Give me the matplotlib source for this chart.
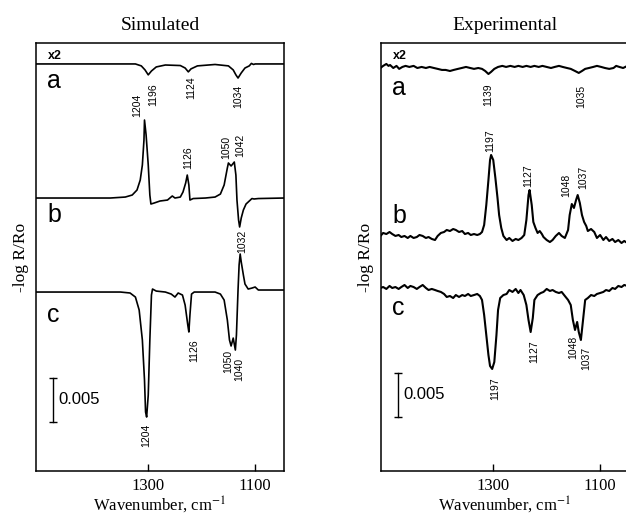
import matplotlib
matplotlib.use("Agg")
import matplotlib.pyplot as plt

plt.rcParams["mathtext.fontset"] = "stix"

# ---- data: wavenumber (cm-1) and change in -log R/Ro (units of 1e-3) ----
# simulated spectra
sim_a_wn = [1509, 1324, 1313, 1306, 1300, 1294, 1285, 1268, 1240, 1231, 1225, 1220,
            1208, 1175, 1150, 1141, 1136, 1132, 1126, 1119, 1111, 1107, 1103, 1100, 1046]
sim_a = [0, 0, -0.11, -0.34, -0.62, -0.40, -0.17, -0.06, -0.09, -0.23, -0.45, -0.28,
         -0.11, -0.03, -0.11, -0.34, -0.62, -0.80, -0.51, -0.23, -0.11, 0.03, -0.03, 0, 0]

sim_b_wn = [1509, 1371, 1343, 1330, 1321, 1315, 1311, 1308, 1307, 1304, 1300, 1297, 1295,
            1289, 1278, 1264, 1255, 1250, 1240, 1235, 1230, 1227, 1224, 1222, 1216, 1193,
            1175, 1165, 1158, 1152, 1150, 1145, 1142, 1139, 1136, 1134, 1131, 1129, 1126,
            1122, 1117, 1109, 1106, 1102, 1094, 1046]
sim_b = [0, 0, 0.11, 0.34, 0.91, 2.04, 3.75, 6.59, 8.86, 7.16, 3.75, 0.34, -0.68,
         -0.57, -0.34, -0.23, 0.23, 0, 0.11, 0.68, 1.70, 2.61, 1.48, -0.23, -0.06, 0,
         0.11, 0.45, 1.48, 3.41, 3.98, 3.64, 3.86, 4.09, 2.61, -0.23, -2.50, -3.29, -2.27,
         -1.36, -0.68, -0.23, -0.06, -0.11, -0.06, 0]

sim_c_wn = [1509, 1352, 1334, 1324, 1317, 1311, 1307, 1305, 1303, 1300, 1297, 1294, 1292,
            1285, 1268, 1257, 1250, 1244, 1236, 1231, 1226, 1224, 1222, 1219, 1214, 1175,
            1165, 1158, 1152, 1148, 1145, 1141, 1137, 1135, 1132, 1130, 1128, 1126, 1122,
            1119, 1113, 1106, 1100, 1094, 1046]
sim_c = [0, 0, -0.11, -0.57, -2.04, -5.45, -10.0, -13.63, -14.2, -11.7, -5.45, -0.34, 0.34,
         0.11, 0, -0.23, -0.57, -0.11, -0.34, -1.48, -3.75, -4.54, -2.61, -0.23, 0, 0,
         -0.23, -0.91, -3.18, -5.45, -6.13, -5.23, -6.59, -4.88, 0.23, 3.07, 4.32, 3.41, 1.93,
         0.91, 0.34, 0.45, 0.57, 0.23, 0.23]

# experimental spectra
exp_a_wn = [1511, 1506, 1500, 1496, 1493, 1487, 1481, 1476, 1470, 1464, 1457, 1449, 1442,
            1434, 1426, 1419, 1411, 1404, 1396, 1389, 1381, 1374, 1366, 1359, 1351, 1343,
            1336, 1328, 1321, 1315, 1309, 1304, 1298, 1291, 1283, 1276, 1268, 1260, 1253,
            1245, 1238, 1230, 1223, 1215, 1208, 1200, 1192, 1185, 1177, 1170, 1162, 1155,
            1147, 1140, 1134, 1128, 1121, 1113, 1106, 1098, 1091, 1083, 1075, 1070, 1064,
            1057, 1049]
exp_a = [-0.06, 0.06, 0.17, 0.06, 0.11, -0.06, 0.06, -0.11, 0, 0.06, 0, 0.06, -0.06,
         0, -0.06, 0, -0.06, -0.11, -0.17, -0.17, -0.23, -0.17, -0.11, -0.06, 0, -0.06,
         -0.11, -0.06, -0.11, -0.23, -0.40, -0.28, -0.11, 0, 0.06, 0, 0.06, 0, 0.06,
         0, 0.06, 0, 0.06, 0, 0.06, 0, -0.06, 0, 0.06, 0, -0.06, -0.11,
         -0.23, -0.34, -0.23, -0.11, -0.06, 0, 0.06, 0, -0.06, -0.11, -0.06, 0.06, 0,
         -0.06, 0.06]

exp_b_wn = [1511, 1506, 1500, 1494, 1489, 1483, 1477, 1472, 1466, 1460, 1455, 1449, 1443,
            1438, 1432, 1426, 1421, 1415, 1409, 1404, 1398, 1392, 1387, 1381, 1375, 1370,
            1364, 1358, 1353, 1347, 1342, 1336, 1330, 1325, 1321, 1317, 1313, 1309, 1306,
            1304, 1300, 1296, 1292, 1289, 1285, 1281, 1275, 1270, 1264, 1258, 1253, 1247,
            1242, 1238, 1234, 1232, 1228, 1225, 1221, 1217, 1213, 1209, 1206, 1200, 1194,
            1189, 1183, 1177, 1172, 1166, 1160, 1157, 1153, 1149, 1145, 1142, 1138, 1134,
            1130, 1126, 1123, 1117, 1111, 1106, 1100, 1094, 1089, 1083, 1077, 1072, 1066,
            1060, 1055, 1049]
exp_b = [-0.11, 0.23, 0.11, 0.34, 0.11, -0.11, 0, -0.23, -0.11, -0.34, -0.11, -0.34, -0.23,
         0, -0.11, -0.34, -0.23, -0.45, -0.57, -0.11, 0.23, 0.34, 0.57, 0.45, 0.68, 0.57,
         0.34, 0.45, 0.11, 0.23, 0, 0.11, 0, 0.11, 0.34, 1.14, 3.41, 6.25, 8.52,
         9.09, 8.52, 6.48, 4.20, 2.27, 0.80, -0.11, -0.57, -0.34, -0.68, -0.45, -0.57, -0.34,
         0, 1.70, 4.54, 5.11, 3.41, 1.48, 0.80, 0.23, 0.45, 0.11, -0.23, -0.57, -0.80,
         -0.57, -0.11, 0.23, -0.11, -0.34, 0.57, 2.27, 3.52, 3.07, 3.98, 4.54, 3.64, 2.27,
         1.48, 1.02, 0.45, 0.68, 0.34, -0.34, 0, -0.57, -0.23, -0.68, -0.45, -0.80, -0.57,
         -0.91, -0.68, -0.91]

exp_c_wn = [1511, 1506, 1500, 1494, 1489, 1483, 1477, 1472, 1466, 1460, 1455, 1449, 1443,
            1438, 1432, 1426, 1421, 1415, 1409, 1404, 1398, 1392, 1387, 1381, 1375, 1370,
            1364, 1358, 1353, 1347, 1342, 1336, 1330, 1325, 1321, 1317, 1313, 1309, 1306,
            1302, 1298, 1294, 1291, 1287, 1281, 1275, 1270, 1264, 1258, 1253, 1249, 1243,
            1238, 1234, 1230, 1226, 1223, 1217, 1211, 1206, 1200, 1194, 1189, 1183, 1177,
            1172, 1166, 1160, 1155, 1151, 1147, 1143, 1140, 1136, 1132, 1128, 1123, 1117,
            1111, 1106, 1100, 1094, 1089, 1083, 1077, 1072, 1066, 1060, 1055, 1049]
exp_c = [0, 0.11, -0.11, 0.23, 0, 0.11, -0.11, 0.11, 0.34, 0, 0.23, 0.11, -0.11,
         0.11, 0.34, 0, -0.23, -0.11, -0.23, -0.34, -0.45, -0.68, -1.02, -0.91, -1.14, -0.80,
         -1.02, -0.80, -0.91, -0.68, -0.91, -0.80, -0.68, -0.91, -1.36, -3.07, -5.34, -7.61, -8.86,
         -9.20, -8.41, -5.34, -2.50, -1.14, -0.80, -0.68, -0.23, -0.45, -0.11, -0.57, -0.23, -0.80,
         -1.93, -3.64, -5.00, -3.41, -1.36, -0.80, -0.57, -0.45, -0.11, -0.34, -0.23, -0.45, -0.57,
         -0.45, -0.91, -1.36, -1.93, -3.64, -4.77, -3.86, -5.00, -5.91, -3.64, -1.36, -1.14, -0.80,
         -0.91, -0.68, -0.57, -0.45, -0.23, -0.34, 0, -0.11, 0.23, 0.11, 0.34, 0.23]

x2_factor = 2  # trace a is shown multiplied by 2

# ---- layout ----
offsets = {"sim": (46.24, 31.01, 20.33), "exp": (45.9, 26.81, 20.79)}
xlim = (1510, 1046)
ylim = (0, 48.62)

sim_labels = [("1196", 1290, 42.8), ("1124", 1220, 43.5), ("1034", 1132, 42.6),
              ("1204", 1321, 41.5), ("1126", 1226, 35.6), ("1050", 1154, 36.7),
              ("1042", 1128, 37.0), ("1032", 1124, 26.1), ("1126", 1214, 13.7),
              ("1050", 1150, 12.4), ("1040", 1130, 11.5), ("1204", 1304, 4.1)]
exp_labels = [("1139", 1309, 42.7), ("1035", 1136, 42.6), ("1197", 1306, 37.5),
              ("1127", 1234, 33.6), ("1048", 1164, 32.5), ("1037", 1132, 33.3),
              ("1197", 1296, 9.3), ("1127", 1224, 13.6), ("1048", 1151, 14.0),
              ("1037", 1126, 12.8)]

serif = "Liberation Serif"
sans = "Liberation Sans"

fig = plt.figure(figsize=(6.26, 5.17), dpi=100)
ax1 = fig.add_axes([36 / 626, 46 / 517, 248 / 626, 428 / 517])
ax2 = fig.add_axes([381 / 626, 46 / 517, 248 / 626, 428 / 517])


def draw_panel(ax, title, traces, offs, labels, letter_y, bar_y, lw):
    wa, ya, wb, yb, wc, yc = traces
    ax.plot(wa, [v * x2_factor + offs[0] for v in ya], color="black", lw=lw)
    ax.plot(wb, [v + offs[1] for v in yb], color="black", lw=lw)
    ax.plot(wc, [v + offs[2] for v in yc], color="black", lw=lw)

    for txt, x, y in labels:
        ax.text(x, y, txt, rotation=90, ha="center", va="center",
                fontsize=7.5, family=sans)

    ax.text(0.05, 0.97, "x2", transform=ax.transAxes, fontsize=9,
            family=sans, fontweight="bold", va="center", ha="left")
    for let, ly in zip("abc", letter_y):
        ax.text(0.045, ly, let, transform=ax.transAxes, fontsize=18,
                family=sans, va="center", ha="left")

    # 0.005 scale bar
    ax.plot([1479, 1479], [bar_y, bar_y + 5], color="black", lw=1)
    ax.plot([1479, 1479], [bar_y, bar_y + 5], ls="none", marker="_",
            ms=6, mew=1, color="black")
    ax.text(1468, bar_y + 2.6, "0.005", fontsize=12, family=sans,
            va="center", ha="left")

    ax.set_xlim(*xlim)
    ax.set_ylim(*ylim)
    ax.set_yticks([])
    ax.set_xticks([1300, 1100])
    ax.set_xticklabels(["1300", "1100"], family=serif, fontsize=12)
    ax.tick_params(axis="x", direction="in", length=5, width=1, pad=5)
    for sp in ax.spines.values():
        sp.set_linewidth(1.1)
    ax.set_title(title, family=serif, fontsize=14, pad=9)
    ax.set_xlabel("Wavenumber, cm$^{-1}$", family=serif, fontsize=12, labelpad=0)
    ax.set_ylabel("-log R/Ro", family=serif, fontsize=12.5, labelpad=5)


draw_panel(ax1, "Simulated", (sim_a_wn, sim_a, sim_b_wn, sim_b, sim_c_wn, sim_c),
           offsets["sim"], sim_labels, (0.911, 0.598, 0.364), 5.57, 1.2)
draw_panel(ax2, "Experimental", (exp_a_wn, exp_a, exp_b_wn, exp_b, exp_c_wn, exp_c),
           offsets["exp"], exp_labels, (0.895, 0.596, 0.381), 6.13, 1.5)

fig.savefig("out.png", dpi=100)
